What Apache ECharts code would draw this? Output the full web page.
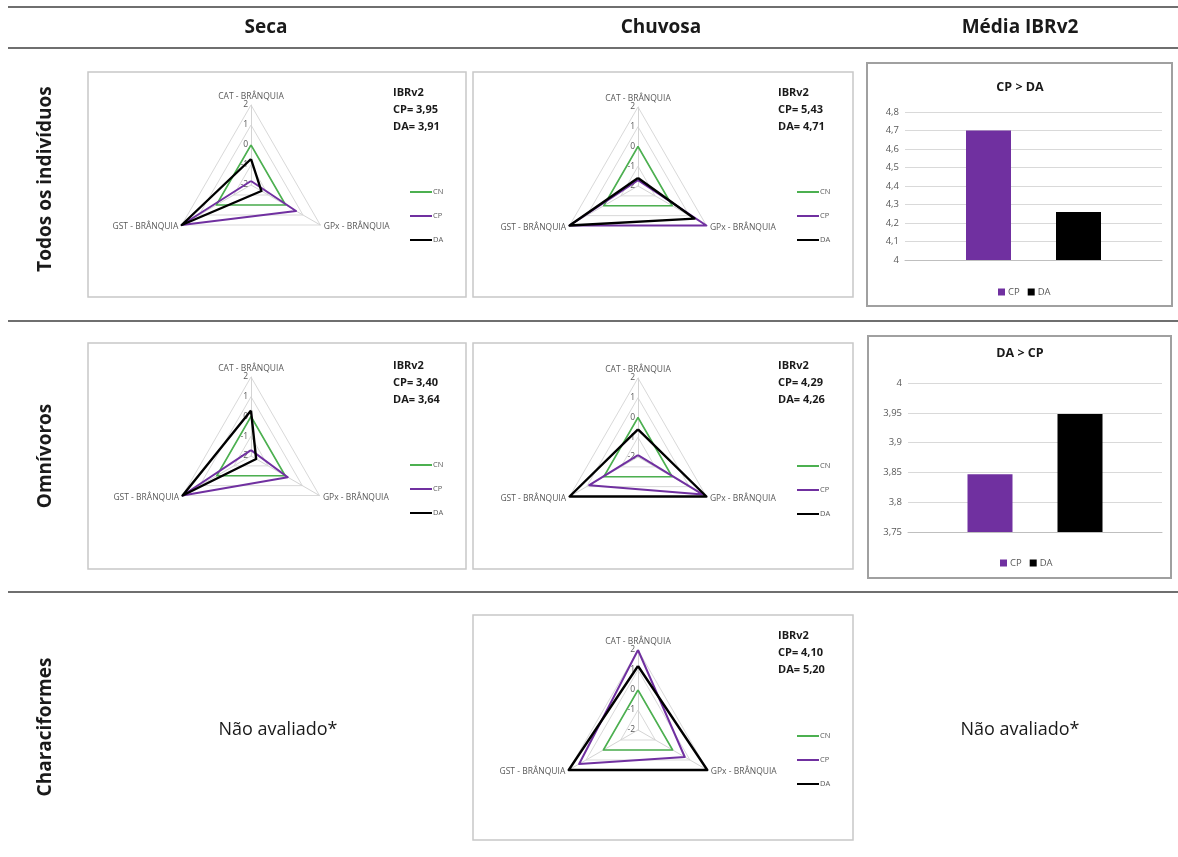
<!DOCTYPE html>
<html><head><meta charset="utf-8">
<script src="https://cdn.jsdelivr.net/npm/echarts@6/dist/echarts.min.js"></script>
<style>html,body{margin:0;padding:0;background:#fff}#c{width:1178px;height:857px}</style>
</head><body><div id="c"></div>
<script>
// ---------- DATA ----------
const columnHeaders = ['Seca', 'Chuvosa', 'Média IBRv2'];
const rowHeaders = ['Todos os indivíduos', 'Omnívoros', 'Characiformes'];
const notEvaluated = 'Não avaliado*';
const radarAxes = ['CAT - BRÂNQUIA', 'GPx - BRÂNQUIA', 'GST - BRÂNQUIA'];
const groups = ['CN', 'CP', 'DA'];
const radarTicks = [-2, -1, 0, 1, 2];

// radar values in order [CAT, GPx, GST]
const secaTodosCN = [0, 0, 0];
const secaTodosCP = [-1.8, 0.6, 2];
const secaTodosDA = [-0.7, -1.4, 2];
const chuvTodosCN = [0, 0, 0];
const chuvTodosCP = [-1.7, 2, 2];
const chuvTodosDA = [-1.6, 1.3, 2];
const secaOmniCN = [0, 0, 0];
const secaOmniCP = [-1.7, 0.15, 2];
const secaOmniDA = [0.3, -1.7, 2];
const chuvOmniCN = [0, 0, 0];
const chuvOmniCP = [-1.9, 1.8, 0.85];
const chuvOmniDA = [-0.6, 2, 2];
const chuvCharaCN = [0, 0, 0];
const chuvCharaCP = [2, 0.7, 1.4];
const chuvCharaDA = [1.2, 2, 2];

// IBRv2 values [CP, DA]
const ibrSecaTodos = [3.95, 3.91];
const ibrChuvTodos = [5.43, 4.71];
const ibrSecaOmni = [3.40, 3.64];
const ibrChuvOmni = [4.29, 4.26];
const ibrChuvChara = [4.10, 5.20];

// mean IBRv2 bar charts
const barSeries = ['CP', 'DA'];
const mediaTodos = [4.70, 4.26];
const mediaOmni = [3.847, 3.948];
const mediaTodosTitle = 'CP > DA';
const mediaOmniTitle = 'DA > CP';
const mediaTodosAxis = {min: 4, max: 4.8, interval: 0.1};
const mediaOmniAxis = {min: 3.75, max: 4, interval: 0.05};

// ---------- STYLE / LAYOUT ----------
const FONT = '"Open Sans", "Liberation Sans", sans-serif';
const colors = {CN: '#4cb050', CP: '#7030a0', DA: '#000000'};
const widths = {CN: 1.6, CP: 2, DA: 2.4};
const comma = v => String(+(+v).toFixed(2)).replace('.', ',');
const fmt2 = v => v.toFixed(2).replace('.', ',');

const radarPanels = [
  {cx: 251, cy: 185, r: 80, vals: [secaTodosCN, secaTodosCP, secaTodosDA], ibr: ibrSecaTodos, lx: 405, ly: 183, tx: 393, ty: 84},
  {cx: 638, cy: 186, r: 79, vals: [chuvTodosCN, chuvTodosCP, chuvTodosDA], ibr: ibrChuvTodos, lx: 792, ly: 183, tx: 778, ty: 84},
  {cx: 251, cy: 456, r: 79, vals: [secaOmniCN, secaOmniCP, secaOmniDA], ibr: ibrSecaOmni, lx: 405, ly: 456, tx: 393, ty: 357},
  {cx: 638, cy: 457, r: 79, vals: [chuvOmniCN, chuvOmniCP, chuvOmniDA], ibr: ibrChuvOmni, lx: 792, ly: 457, tx: 778, ty: 357},
  {cx: 638, cy: 730, r: 80, vals: [chuvCharaCN, chuvCharaCP, chuvCharaDA], ibr: ibrChuvChara, lx: 792, ly: 727, tx: 778, ty: 627}
];

const barPanels = [
  {grid: {left: 905, top: 112, width: 257, height: 148}, vals: mediaTodos, axis: mediaTodosAxis, title: mediaTodosTitle, titleX: 1020, titleY: 87, lx: 993, ly: 282},
  {grid: {left: 908, top: 383, width: 254, height: 149}, vals: mediaOmni, axis: mediaOmniAxis, title: mediaOmniTitle, titleX: 1020, titleY: 353, lx: 995, ly: 553}
];

const boxes = [
  {x: 88, y: 72, w: 378, h: 225, c: '#c8c8c8', lw: 1.5},
  {x: 473, y: 72, w: 380, h: 225, c: '#c8c8c8', lw: 1.5},
  {x: 867, y: 63, w: 305, h: 243, c: '#a0a0a0', lw: 2},
  {x: 88, y: 343, w: 378, h: 226, c: '#c8c8c8', lw: 1.5},
  {x: 473, y: 343, w: 380, h: 226, c: '#c8c8c8', lw: 1.5},
  {x: 868, y: 336, w: 303, h: 242, c: '#a0a0a0', lw: 2},
  {x: 473, y: 615, w: 380, h: 225, c: '#c8c8c8', lw: 1.5}
];
const ruleYs = [7, 48, 321, 592];

// ---------- BUILD ----------
const graphic = [];
ruleYs.forEach(y => graphic.push({type: 'line', shape: {x1: 8, y1: y, x2: 1178, y2: y}, style: {stroke: '#6f6f6f', lineWidth: 2}, silent: true}));
boxes.forEach(b => graphic.push({type: 'rect', shape: {x: b.x, y: b.y, width: b.w, height: b.h}, style: {fill: 'none', stroke: b.c, lineWidth: b.lw}, silent: true}));
const headerX = [266, 661, 1020];
columnHeaders.forEach((t, i) => graphic.push({type: 'text', x: headerX[i], y: 28, silent: true,
  style: {text: t, font: 'bold 19px ' + FONT, fill: '#1a1a1a', align: 'center', verticalAlign: 'middle'}}));
const rowY = [179, 456, 727];
rowHeaders.forEach((t, i) => graphic.push({type: 'text', x: 46, y: rowY[i], rotation: Math.PI / 2, silent: true,
  style: {text: t, font: 'bold 19px ' + FONT, fill: '#1a1a1a', align: 'center', verticalAlign: 'middle'}}));
[278, 1020].forEach(x => graphic.push({type: 'text', x: x, y: 730, silent: true,
  style: {text: notEvaluated, font: '18px ' + FONT, fill: '#1a1a1a', align: 'center', verticalAlign: 'middle'}}));

const radars = [], series = [], legends = [];
radarPanels.forEach((p, i) => {
  // ECharts places indicators counter-clockwise: CAT (top), GST (bottom-left), GPx (bottom-right)
  const order = [0, 2, 1];
  radars.push({
    center: [p.cx, p.cy], radius: p.r, shape: 'polygon', startAngle: 90, splitNumber: radarTicks.length - 1,
    indicator: order.map((k, j) => ({name: radarAxes[k], min: radarTicks[0], max: radarTicks[radarTicks.length - 1],
      axisLabel: j === 0 ? {show: true} : {show: false}})),
    axisName: {color: '#595959', fontSize: 8.5, fontFamily: FONT},
    nameGap: 4,
    axisLine: {lineStyle: {color: '#d4d4d4', width: 1}},
    splitLine: {lineStyle: {color: '#d9d9d9', width: 1}},
    splitArea: {show: false},
    axisTick: {show: false},
    axisLabel: {show: false, color: '#595959', fontSize: 8.5, fontFamily: FONT, margin: 3}
  });
  series.push({
    type: 'radar', name: 'radar' + i, radarIndex: i, symbol: 'none', silent: true,
    data: groups.map((g, k) => ({name: g, value: order.map(o => p.vals[k][o]),
      lineStyle: {color: colors[g], width: widths[g]}, itemStyle: {color: colors[g]}}))
  });
  legends.push({
    data: groups, orient: 'vertical', left: p.lx, top: p.ly, itemGap: 16, itemWidth: 22, itemHeight: 2,
    icon: 'rect', selectedMode: false, textStyle: {color: '#595959', fontSize: 7.5, fontFamily: FONT, padding: [0, 0, 0, -4]}
  });
  graphic.push({type: 'text', x: p.tx, y: p.ty, silent: true,
    style: {text: 'IBRv2\nCP= ' + fmt2(p.ibr[0]) + '\nDA= ' + fmt2(p.ibr[1]), font: 'bold 11px ' + FONT,
      fill: '#1a1a1a', lineHeight: 17}});
});

const grids = [], xAxes = [], yAxes = [];
barPanels.forEach((b, i) => {
  grids.push(b.grid);
  xAxes.push({type: 'category', gridIndex: i, data: ['IBRv2'], axisLabel: {show: false}, axisTick: {show: false},
    axisLine: {lineStyle: {color: '#bfbfbf', width: 1}}});
  yAxes.push({type: 'value', gridIndex: i, min: b.axis.min, max: b.axis.max, interval: b.axis.interval,
    axisLine: {show: false}, axisTick: {show: false},
    axisLabel: {color: '#595959', fontSize: 9.5, fontFamily: FONT, formatter: comma, margin: 6},
    splitLine: {lineStyle: {color: '#d9d9d9', width: 1}}});
  barSeries.forEach((s, k) => series.push({
    type: 'bar', name: s, xAxisIndex: i, yAxisIndex: i, data: [b.vals[k]], barWidth: 45, barGap: '100%', silent: true,
    itemStyle: {color: colors[s]}
  }));
  legends.push({data: barSeries, left: b.lx, top: b.ly, itemWidth: 7, itemHeight: 7, itemGap: 8, icon: 'rect',
    selectedMode: false, textStyle: {color: '#595959', fontSize: 9.5, fontFamily: FONT, padding: [0, 0, 0, -2]}});
  graphic.push({type: 'text', x: b.titleX, y: b.titleY, silent: true,
    style: {text: b.title, font: 'bold 12.5px ' + FONT, fill: '#1a1a1a', align: 'center', verticalAlign: 'middle'}});
});

const chart = echarts.init(document.getElementById('c'), null, {renderer: 'canvas'});
chart.setOption({
  animation: false,
  backgroundColor: '#ffffff',
  textStyle: {fontFamily: FONT},
  graphic: graphic,
  radar: radars,
  grid: grids,
  xAxis: xAxes,
  yAxis: yAxes,
  legend: legends,
  series: series
});
</script></body></html>
